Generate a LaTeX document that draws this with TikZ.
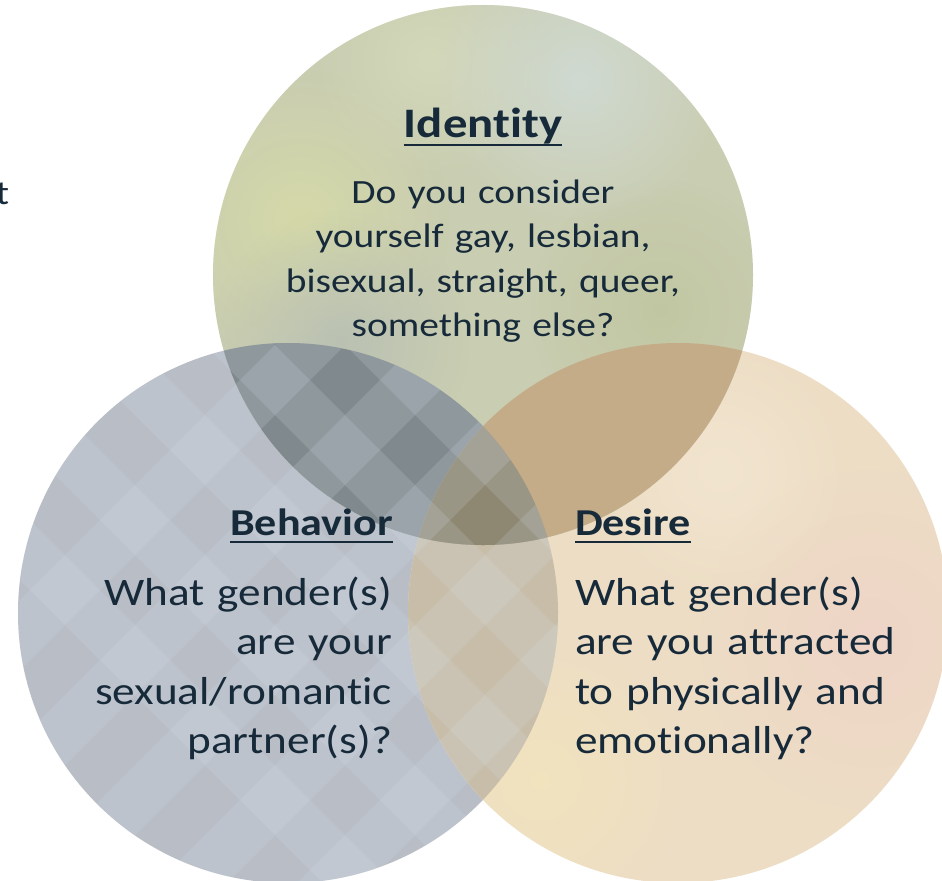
\documentclass[tikz,border=0pt]{standalone}
\usepackage{fontspec}
\setmainfont{Carlito}[FakeStretch=1.16, Ligatures=NoCommon]
\usetikzlibrary{fadings}
\definecolor{ink}{HTML}{172A3A}
\definecolor{colI}{HTML}{C9CDB1}
\definecolor{colB}{HTML}{B9BDC6}
\definecolor{colD}{HTML}{EDDDC5}
\definecolor{colBD}{HTML}{C8BDA8}
\definecolor{colIB}{HTML}{808A8E}
\definecolor{colID}{HTML}{C4AC89}
\definecolor{colIBD}{HTML}{8E8772}
\definecolor{bandlight}{HTML}{D6E1EC}
% tints used for the soft patches
\definecolor{tintIa}{HTML}{D8DCA6}
\definecolor{tintIb}{HTML}{D6DBBC}
\definecolor{tintIc}{HTML}{D2DDDA}
\definecolor{tintId}{HTML}{B6BEB4}
\definecolor{tintIe}{HTML}{BFC59E}
\definecolor{tintDa}{HTML}{EFD3C8}
\definecolor{tintDb}{HTML}{F2E5BC}
\definecolor{tintDc}{HTML}{F3E7D2}
\tikzfading[name=softblob, inner color=transparent!0, outer color=transparent!100]
\begin{document}
\begin{tikzpicture}[x=1bp,y=-1bp,
  txt/.style={text=ink, inner sep=0pt, outer sep=0pt},
  titlefont/.style={font=\fontsize{#1}{#1}\selectfont\bfseries},
  uline/.style={draw=ink, line width=2.4bp},
  band/.style={fill=bandlight, fill opacity=0.17},
  blob/.style={fill=#1, path fading=softblob, fill opacity=0.8}]
\def\R{270bp}
% page
\fill[white] (0,0) rectangle (942,881);
\useasboundingbox (0,0) rectangle (942,881);

\coordinate (cI) at (483,275);
\coordinate (cB) at (288,613);
\coordinate (cD) at (678,613);

% base discs
\fill[colB] (cB) circle[radius=\R];
\fill[colD] (cD) circle[radius=\R];
\fill[colI] (cI) circle[radius=\R];

% soft tints inside each disc
\begin{scope}
  \clip (cI) circle[radius=\R];
  \fill[blob=tintIa] (300,220) circle[radius=150bp];
  \fill[blob=tintIb] (430,60) circle[radius=120bp];
  \fill[blob=tintIc] (580,80) circle[radius=150bp];
  \fill[blob=tintId] (340,340) circle[radius=130bp];
  \fill[blob=tintIe] (660,310) circle[radius=130bp];
\end{scope}
\begin{scope}
  \clip (cD) circle[radius=\R];
  \fill[blob=tintDa] (870,640) circle[radius=170bp];
  \fill[blob=tintDb] (540,780) circle[radius=160bp];
  \fill[blob=tintDc] (720,470) circle[radius=130bp];
\end{scope}

% overlaps
\begin{scope}
  \clip (cB) circle[radius=\R];
  \fill[colBD] (cD) circle[radius=\R];
\end{scope}
\begin{scope}
  \clip (cI) circle[radius=\R];
  \fill[colIB] (cB) circle[radius=\R];
  \fill[colID] (cD) circle[radius=\R];
\end{scope}
\begin{scope}
  \clip (cI) circle[radius=\R];
  \clip (cB) circle[radius=\R];
  \fill[colIBD] (cD) circle[radius=\R];
\end{scope}

% diagonal lattice inside the behavior disc
\begin{scope}
  \clip (cB) circle[radius=\R];
  \foreach \s in {620,760,900,1040,1180}
    \fill[band]
      (\s-900,900) -- (\s+900,-900) -- (\s+970,-900) -- (\s+70-900,900) -- cycle;
  \foreach \s in {-560,-420,-280,-140,0,140}
    \fill[band]
      (\s+900,900) -- (\s-900,-900) -- (\s+70-900,-900) -- (\s+70+900,900) -- cycle;
\end{scope}

% cut-off fragment at the left edge
\node[txt, font=\fontsize{34bp}{44.5bp}\selectfont, anchor=base east] (frag) at (9,204) {t};

% Identity
\node[txt, titlefont=42bp, anchor=base] (tI) at (483,137.7) {Identity};
\draw[uline] ([yshift=-7bp]tI.base west) -- ([yshift=-7bp]tI.base east);
\node[txt, font=\fontsize{34bp}{44.5bp}\selectfont, text width=460bp, align=center, anchor=base] (qI) at (483,203.3)
  {Do you consider\\ yourself gay, lesbian,\\ bisexual, straight, queer,\\ something else?};

% Behavior
\node[txt, titlefont=38bp, anchor=base east] (tB) at (393,535) {Behavior};
\draw[uline] ([yshift=-7bp]tB.base west) -- ([yshift=-7bp]tB.base east);
\node[txt, font=\fontsize{39bp}{49.5bp}\selectfont, text width=380bp, align=right, anchor=base east] (qB) at (392,605)
  {What gender(s)\\ are your\\ sexual/romantic\\ partner(s)?};

% Desire
\node[txt, titlefont=38bp, anchor=base west] (tD) at (575,535) {Desire};
\draw[uline] ([yshift=-7bp]tD.base west) -- ([yshift=-7bp]tD.base east);
\node[txt, font=\fontsize{39bp}{49.5bp}\selectfont, text width=380bp, align=left, anchor=base west] (qD) at (575,605)
  {What gender(s)\\ are you attracted\\ to physically and\\ emotionally?};
\end{tikzpicture}
\end{document}
